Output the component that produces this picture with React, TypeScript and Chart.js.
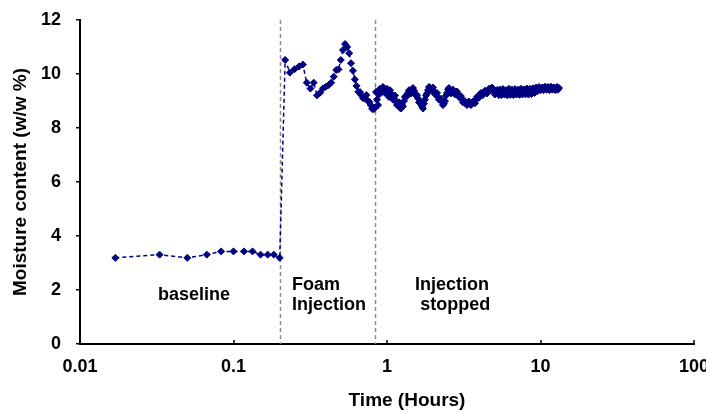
import React, { useEffect, useRef } from "react";
import { Chart, registerables } from "chart.js";

Chart.register(...registerables);

// ---- data (hours, % w/w) ----
const baselineTimes = [0.017, 0.033, 0.05, 0.067, 0.083, 0.1, 0.117, 0.133, 0.15, 0.167, 0.183, 0.2];
const baselineValues = [3.19, 3.31, 3.19, 3.31, 3.43, 3.43, 3.43, 3.43, 3.31, 3.31, 3.31, 3.19];

const foamTimes = [
  0.217, 0.233, 0.25, 0.267, 0.283, 0.3, 0.317, 0.333, 0.35, 0.367, 0.383, 0.4, 0.417,
  0.433, 0.45, 0.467, 0.483, 0.5, 0.517, 0.533, 0.55, 0.567, 0.583, 0.6, 0.617, 0.633,
  0.65, 0.667, 0.683, 0.7, 0.717, 0.733, 0.75, 0.767, 0.783, 0.8, 0.817, 0.833,
];
const foamValues = [
  10.52, 10.05, 10.18, 10.28, 10.35, 9.68, 9.46, 9.68, 9.21, 9.31, 9.47, 9.53, 9.59,
  9.68, 9.9, 10.15, 10.17, 10.52, 10.89, 11.11, 11.0, 10.77, 10.4, 10.12, 9.8, 9.56,
  9.34, 9.33, 9.2, 9.1, 9.15, 9.22, 9.0, 8.97, 8.85, 8.71, 8.69, 8.75,
];

// after injection stopped: readings along the dense band (upper trace)
const stoppedTimes = [
  0.848, 0.874, 0.9, 0.928, 0.956, 0.985, 1.015, 1.046, 1.078, 1.111, 1.145, 1.179, 1.215,
  1.252, 1.29, 1.33, 1.37, 1.412, 1.455, 1.499, 1.545, 1.592, 1.64, 1.69, 1.741, 1.794,
  1.849, 1.905, 1.963, 2.023, 2.085, 2.148, 2.214, 2.281, 2.35, 2.422, 2.496, 2.572, 2.65,
  2.731, 2.814, 2.899, 2.988, 3.079, 3.172, 3.269, 3.368, 3.471, 3.577, 3.686, 3.798,
  3.913, 4.033, 4.155, 4.282, 4.412, 4.546, 4.685, 4.827, 4.974, 5.126, 5.282, 5.443,
  5.693, 5.955, 6.229, 6.516, 6.816, 7.13, 7.458, 7.801, 8.161, 8.536, 8.929, 9.34,
  9.778, 10.227, 10.698, 11.191, 11.706, 12.245, 12.809, 13.2,
];
const stoppedValues = [
  9.33, 8.85, 9.45, 9.4, 9.45, 9.38, 9.25, 9.4, 9.2, 9.1, 8.97, 8.9, 8.75,
  8.85, 9.0, 9.2, 9.3, 9.38, 9.43, 9.38, 9.2, 9.1, 8.95, 8.8, 8.9, 9.2,
  9.4, 9.5, 9.45, 9.35, 9.25, 9.15, 9.05, 8.97, 8.9, 9.2, 9.43, 9.38, 9.35,
  9.35, 9.3, 9.25, 9.15, 9.05, 8.97, 8.92, 8.9, 8.92, 8.9, 8.95, 9.05,
  9.15, 9.22, 9.28, 9.3, 9.35, 9.38, 9.45, 9.5, 9.42, 9.3, 9.4, 9.42,
  9.44, 9.4, 9.45, 9.42, 9.44, 9.42, 9.45, 9.43, 9.46, 9.45, 9.47, 9.5,
  9.52, 9.5, 9.53, 9.52, 9.53, 9.5, 9.52, 9.48,
];

// after injection stopped: readings in between (lower/scatter trace of the band)
const stoppedTimes2 = [
  0.861, 0.887, 0.914, 0.942, 0.97, 1.0, 1.03, 1.062, 1.094, 1.128, 1.162, 1.197, 1.233,
  1.271, 1.309, 1.35, 1.391, 1.433, 1.477, 1.522, 1.568, 1.616, 1.665, 1.716, 1.767, 1.821,
  1.877, 1.934, 1.993, 2.054, 2.116, 2.18, 2.247, 2.315, 2.386, 2.459, 2.534, 2.611, 2.69,
  2.772, 2.857, 2.943, 3.033, 3.126, 3.22, 3.318, 3.419, 3.523, 3.631, 3.742, 3.855,
  3.972, 4.094, 4.218, 4.347, 4.479, 4.615, 4.756, 4.9, 5.049, 5.203, 5.362,
  5.567, 5.823, 6.091, 6.371, 6.664, 6.971, 7.292, 7.628, 7.979, 8.347, 8.73, 9.132,
  9.553, 10.0, 10.46, 10.942, 11.446, 11.972, 12.524, 13.0,
];
const stoppedValues2 = [
  9.05, 9.25, 9.3, 9.52, 9.3, 9.45, 9.15, 9.28, 9.05, 9.2, 8.85, 8.95, 8.72,
  8.8, 9.15, 9.18, 9.4, 9.28, 9.48, 9.25, 9.22, 8.95, 8.92, 8.72, 9.05, 9.28,
  9.52, 9.4, 9.5, 9.25, 9.3, 9.05, 9.08, 8.85, 9.0, 9.3, 9.48, 9.28, 9.42,
  9.25, 9.35, 9.15, 9.18, 8.95, 9.0, 8.85, 8.98, 8.85, 8.98, 8.92, 9.15,
  9.12, 9.3, 9.22, 9.38, 9.28, 9.45, 9.4, 9.4, 9.24, 9.4, 9.22,
  9.22, 9.24, 9.21, 9.23, 9.22, 9.24, 9.23, 9.24, 9.25, 9.24, 9.26, 9.3,
  9.36, 9.4, 9.4, 9.42, 9.4, 9.42, 9.4, 9.42,
];

const xTickValues = [0.01, 0.1, 1, 10, 100];
const phaseBoundaries = [0.2, 0.833];
const phaseLabels = ["baseline", "Foam", "Injection", "Injection", "stopped"];
const xTitle = "Time (Hours)";
const yTitle = "Moisture content (w/w %)";

// annotation anchors (data coordinates) and alignment
const labelAnchors = [
  { x: 0.0553, y: 1.83, align: "center" },
  { x: 0.2405, y: 2.2, align: "left" },
  { x: 0.2405, y: 1.43, align: "left" },
  { x: 2.65, y: 2.2, align: "center" },
  { x: 2.78, y: 1.43, align: "center" },
];

const FONT = "'Liberation Sans', Arial, Helvetica, sans-serif";

export default function App() {
  const ref = useRef<HTMLCanvasElement>(null);

  useEffect(() => {
    const canvas = ref.current!;
    const toPts = (ts: number[], vs: number[]) => ts.map((t, i) => ({ x: t, y: vs[i] }));
    const stopped = [...toPts(stoppedTimes, stoppedValues), ...toPts(stoppedTimes2, stoppedValues2)].sort(
      (a, b) => a.x - b.x
    );
    const points = [...toPts(baselineTimes, baselineValues), ...toPts(foamTimes, foamValues), ...stopped];
    const font = { family: FONT, size: 18, weight: "bold" as const };
    const titleFont = { family: FONT, size: 19, weight: "bold" as const };

    const overlay = {
      id: "overlay",
      beforeDatasetsDraw(chart: any) {
        const { ctx, chartArea, scales } = chart;
        const x = scales.x;
        ctx.save();
        ctx.strokeStyle = "#8c8c8c";
        ctx.lineWidth = 1.5;
        ctx.setLineDash([4, 3]);
        for (const v of phaseBoundaries) {
          const px = Math.round(x.getPixelForValue(v)) + 0.5;
          ctx.beginPath();
          ctx.moveTo(px, chartArea.top);
          ctx.lineTo(px, chartArea.bottom);
          ctx.stroke();
        }
        ctx.restore();
      },
      afterDraw(chart: any) {
        const { ctx, chartArea, scales } = chart;
        const x = scales.x;
        const y = scales.y;
        ctx.save();
        ctx.strokeStyle = "#000";
        ctx.lineWidth = 1.5;
        for (const v of xTickValues) {
          const px = Math.round(x.getPixelForValue(v));
          ctx.beginPath();
          ctx.moveTo(px, chartArea.bottom);
          ctx.lineTo(px, chartArea.bottom - 4);
          ctx.stroke();
        }
        ctx.fillStyle = "#000";
        ctx.font = `bold 18px ${FONT}`;
        ctx.textBaseline = "middle";
        phaseLabels.forEach((t, i) => {
          const a = labelAnchors[i];
          ctx.textAlign = a.align as CanvasTextAlign;
          ctx.fillText(t, x.getPixelForValue(a.x), y.getPixelForValue(a.y));
        });
        // x-axis title (offset right of centre, as in the original)
        ctx.font = `bold 19px ${FONT}`;
        ctx.textAlign = "center";
        ctx.fillText(xTitle, 407, 401);
        ctx.restore();
      },
    };

    const chart = new Chart(canvas, {
      type: "line",
      data: {
        datasets: [
          {
            data: points,
            borderColor: "#000080",
            borderWidth: 1.5,
            borderDash: [4, 3],
            tension: 0,
            pointStyle: "rectRot",
            pointRadius: 3.5,
            pointBorderWidth: 1,
            pointBackgroundColor: "#000080",
            pointBorderColor: "#000080",
          },
        ],
      },
      options: {
        animation: false,
        responsive: false,
        devicePixelRatio: 1,
        layout: { padding: { top: 20, right: 12, left: 0, bottom: 0 } },
        plugins: { legend: { display: false }, tooltip: { enabled: false } },
        scales: {
          x: {
            type: "logarithmic",
            min: 0.01,
            max: 100,
            afterBuildTicks: (s: any) => {
              s.ticks = xTickValues.map((v) => ({ value: v }));
            },
            afterFit: (s: any) => {
              s.height = 70;
              s.paddingLeft = 0;
              s.paddingRight = 0;
            },
            ticks: {
              font,
              color: "#000",
              padding: 12,
              autoSkip: false,
              maxRotation: 0,
              callback: (v: any) => String(v),
            },
            grid: { display: true, drawOnChartArea: false, drawTicks: false },
            border: { display: true, color: "#000", width: 2 },
            title: { display: false },
          },
          y: {
            type: "linear",
            min: 0,
            max: 12,
            afterFit: (s: any) => {
              s.width = 80;
              s.paddingTop = 0;
              s.paddingBottom = 0;
            },
            ticks: { stepSize: 2, font, color: "#000", padding: 15 },
            grid: {
              drawOnChartArea: false,
              drawTicks: true,
              tickLength: 4,
              color: "#000",
              lineWidth: 1.5,
            },
            border: { display: true, color: "#000", width: 2 },
            title: {
              display: true,
              text: yTitle,
              font: titleFont,
              color: "#000",
              padding: { top: 9, bottom: 0 },
            },
          },
        },
      },
      plugins: [overlay],
    } as any);

    return () => chart.destroy();
  }, []);

  return (
    <div style={{ position: "absolute", left: 0, top: 0, width: 706, height: 414, background: "#fff" }}>
      <canvas ref={ref} width={706} height={414} style={{ display: "block" }} />
    </div>
  );
}
